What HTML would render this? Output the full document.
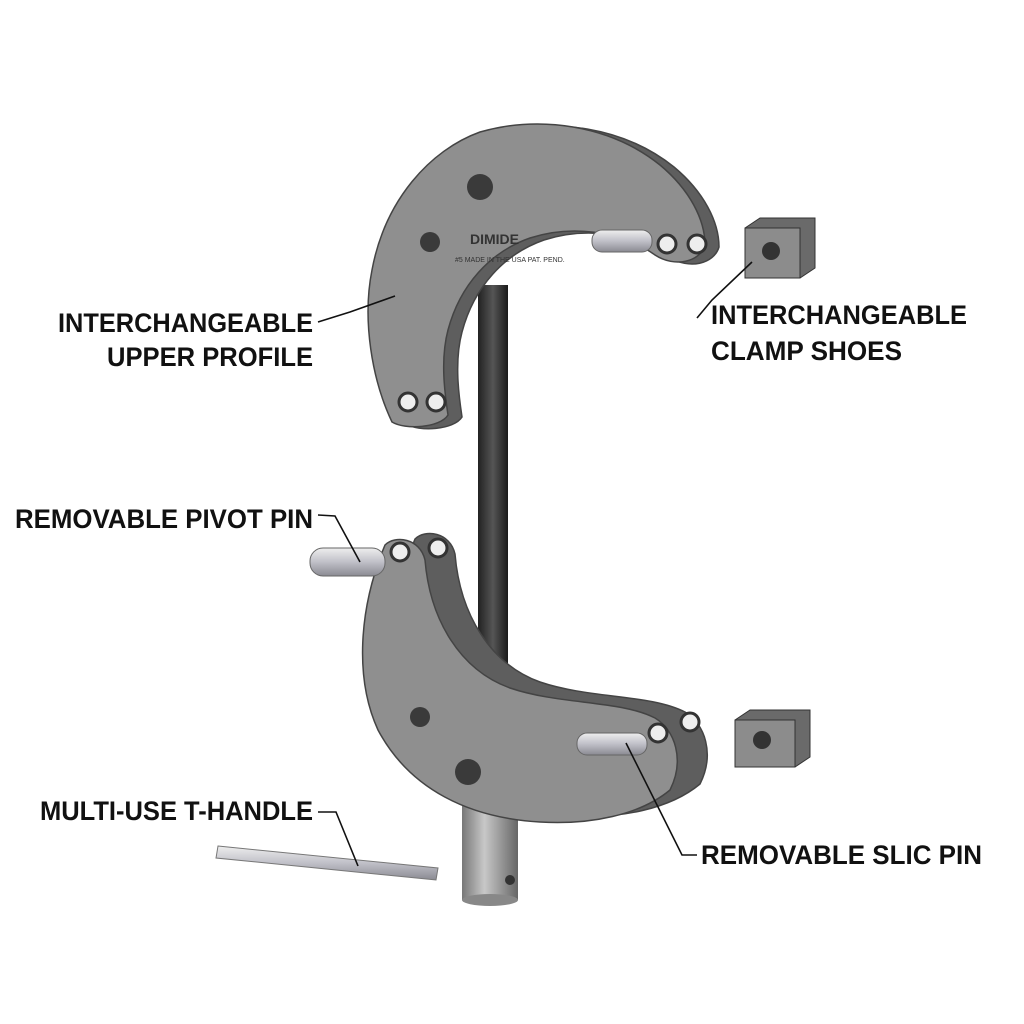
<!DOCTYPE html>
<html><head><meta charset="utf-8"><style>
html,body{margin:0;padding:0;background:#fff;}
svg{display:block;}
text{font-family:"Liberation Sans",sans-serif;font-weight:bold;font-size:27px;fill:#111;}
</style></head><body>
<svg width="1024" height="1024" viewBox="0 0 1024 1024" xmlns="http://www.w3.org/2000/svg">
<defs>
<linearGradient id="rod" x1="0" x2="1"><stop offset="0" stop-color="#222"/><stop offset="0.5" stop-color="#555"/><stop offset="1" stop-color="#1a1a1a"/></linearGradient>
<linearGradient id="cyl" x1="0" x2="1"><stop offset="0" stop-color="#777"/><stop offset="0.4" stop-color="#c8c8c8"/><stop offset="1" stop-color="#666"/></linearGradient>
<linearGradient id="pin" x1="0" y1="0" x2="0" y2="1"><stop offset="0" stop-color="#eee"/><stop offset="0.5" stop-color="#c0c0c8"/><stop offset="1" stop-color="#8a8a92"/></linearGradient>
<path id="up" d="M392,422 C372,380 362,320 372,270 C385,200 430,150 480,132 C540,115 610,125 660,165 C690,190 705,220 705,245 C700,262 675,268 655,255 C620,230 570,225 530,238 C490,252 460,285 448,330 C440,360 445,395 448,415 C440,428 405,430 392,422 Z"/>
<path id="lo" d="M385,545 C395,535 420,538 425,560 C430,620 460,670 510,688 C560,705 620,700 655,718 C675,730 685,760 670,790 C640,815 590,825 540,822 C470,818 410,790 378,730 C355,680 358,610 385,545 Z"/>
</defs>
<rect x="478" y="285" width="30" height="405" fill="url(#rod)"/>
<rect x="462" y="805" width="56" height="95" fill="url(#cyl)"/>
<ellipse cx="490" cy="900" rx="28" ry="6" fill="#888"/>
<circle cx="510" cy="880" r="5" fill="#333"/>
<!-- upper -->
<use href="#up" transform="translate(14,2)" fill="#5e5e5e" stroke="#444" stroke-width="1.5"/>
<use href="#up" fill="#8f8f8f" stroke="#444" stroke-width="1.5"/>
<circle cx="480" cy="187" r="13" fill="#3a3a3a"/>
<circle cx="430" cy="242" r="10" fill="#3a3a3a"/>
<circle cx="408" cy="402" r="9" fill="#eee" stroke="#333" stroke-width="3"/>
<circle cx="436" cy="402" r="9" fill="#eee" stroke="#333" stroke-width="3"/>
<circle cx="667" cy="244" r="9" fill="#eee" stroke="#333" stroke-width="3"/>
<circle cx="697" cy="244" r="9" fill="#eee" stroke="#333" stroke-width="3"/>
<text x="470" y="244" style="font-size:14px;fill:#333">DIMIDE</text>
<text x="455" y="262" style="font-size:7px;font-weight:normal;fill:#333">#5  MADE IN THE USA  PAT. PEND.</text>
<rect x="592" y="230" width="60" height="22" rx="10" fill="url(#pin)" stroke="#666"/>
<polygon points="745,228 760,218 815,218 815,268 800,278 745,278" fill="#6a6a6a" stroke="#333"/>
<rect x="745" y="228" width="55" height="50" fill="#8c8c8c" stroke="#333"/>
<circle cx="771" cy="251" r="9" fill="#333"/>
<!-- lower -->
<use href="#lo" transform="translate(30,-6)" fill="#5e5e5e" stroke="#444" stroke-width="1.5"/>
<use href="#lo" fill="#8f8f8f" stroke="#444" stroke-width="1.5"/>
<circle cx="468" cy="772" r="13" fill="#3a3a3a"/>
<circle cx="420" cy="717" r="10" fill="#3a3a3a"/>
<circle cx="400" cy="552" r="9" fill="#eee" stroke="#333" stroke-width="3"/>
<circle cx="438" cy="548" r="9" fill="#eee" stroke="#333" stroke-width="3"/>
<circle cx="658" cy="733" r="9" fill="#eee" stroke="#333" stroke-width="3"/>
<circle cx="690" cy="722" r="9" fill="#eee" stroke="#333" stroke-width="3"/>
<rect x="577" y="733" width="70" height="22" rx="10" fill="url(#pin)" stroke="#666"/>
<rect x="310" y="548" width="75" height="28" rx="13" fill="url(#pin)" stroke="#666"/>
<polygon points="735,720 750,710 810,710 810,757 795,767 735,767" fill="#6a6a6a" stroke="#333"/>
<rect x="735" y="720" width="60" height="47" fill="#8c8c8c" stroke="#333"/>
<circle cx="762" cy="740" r="9" fill="#333"/>
<polygon points="218,846 438,868 436,880 216,858" fill="url(#pin)" stroke="#777"/>
<g stroke="#111" stroke-width="1.6" fill="none">
<polyline points="318,322 350,312 395,296"/>
<polyline points="697,318 712,300 752,262"/>
<polyline points="318,515 335,516 360,562"/>
<polyline points="318,812 336,812 358,866"/>
<polyline points="697,855 682,855 626,743"/>
</g>
<text x="58" y="332" textLength="255" lengthAdjust="spacingAndGlyphs">INTERCHANGEABLE</text>
<text x="107" y="366" textLength="206" lengthAdjust="spacingAndGlyphs">UPPER PROFILE</text>
<text x="711" y="324" textLength="256" lengthAdjust="spacingAndGlyphs">INTERCHANGEABLE</text>
<text x="711" y="360" textLength="191" lengthAdjust="spacingAndGlyphs">CLAMP SHOES</text>
<text x="15" y="528" textLength="298" lengthAdjust="spacingAndGlyphs">REMOVABLE PIVOT PIN</text>
<text x="40" y="820" textLength="273" lengthAdjust="spacingAndGlyphs">MULTI-USE T-HANDLE</text>
<text x="701" y="864" textLength="281" lengthAdjust="spacingAndGlyphs">REMOVABLE SLIC PIN</text>
</svg>
</body></html>
